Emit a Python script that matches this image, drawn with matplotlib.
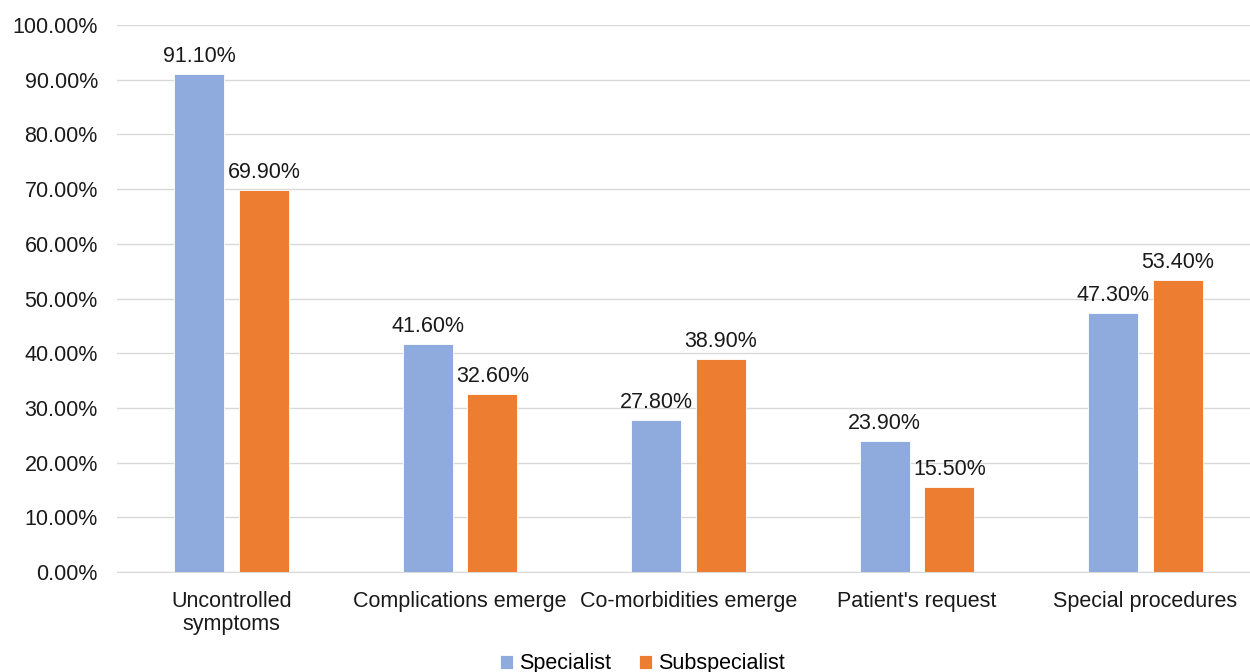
import matplotlib.pyplot as plt
import numpy as np

plt.rcParams['font.family'] = ['Liberation Sans', 'DejaVu Sans']

categories = ["Uncontrolled\nsymptoms", "Complications emerge", "Co-morbidities emerge",
              "Patient's request", "Special procedures"]
specialist = [91.10, 41.60, 27.80, 23.90, 47.30]
subspecialist = [69.90, 32.60, 38.90, 15.50, 53.40]

fig = plt.figure(figsize=(12.5, 6.72), dpi=100)
ax = fig.add_axes([0.0938, 0.1488, 0.914, 0.814])

x = np.arange(len(categories))
w = 0.219
off = 0.142
b1 = ax.bar(x - off, specialist, w, color='#8faadc', edgecolor='white', linewidth=0.6, label='Specialist', zorder=3)
b2 = ax.bar(x + off, subspecialist, w, color='#ed7d31', edgecolor='white', linewidth=0.6, label='Subspecialist', zorder=3)

for bars in (b1, b2):
    for rect in bars:
        h = rect.get_height()
        ax.text(rect.get_x() + rect.get_width() / 2, h + 1.3, f"{h:.2f}%",
                ha='center', va='bottom', fontsize=15.5, color='#1a1a1a')

ax.set_xlim(-0.5, len(categories) - 0.5)
ax.set_ylim(0, 100)
ax.set_yticks(np.arange(0, 101, 10))
ax.set_yticklabels([f"{v:.2f}%" for v in np.arange(0, 101, 10)])
ax.set_xticks(x)
ax.set_xticklabels(categories, linespacing=1.12)
ax.tick_params(axis='both', length=0, labelsize=15.5, labelcolor='#1a1a1a')
ax.tick_params(axis='x', pad=14)
ax.tick_params(axis='y', pad=14)
ax.grid(axis='y', color='#d9d9d9', linewidth=1, zorder=0)
for s in ['top', 'right', 'left']:
    ax.spines[s].set_visible(False)
ax.spines['bottom'].set_color('#d9d9d9')

fig.legend(handles=[b1, b2], loc='center', bbox_to_anchor=(0.514, 0.012), ncol=2,
           frameon=False, fontsize=15.5, handlelength=0.6, handleheight=0.6,
           handletextpad=0.3, columnspacing=1.3)

fig.savefig('out.png', dpi=100)
